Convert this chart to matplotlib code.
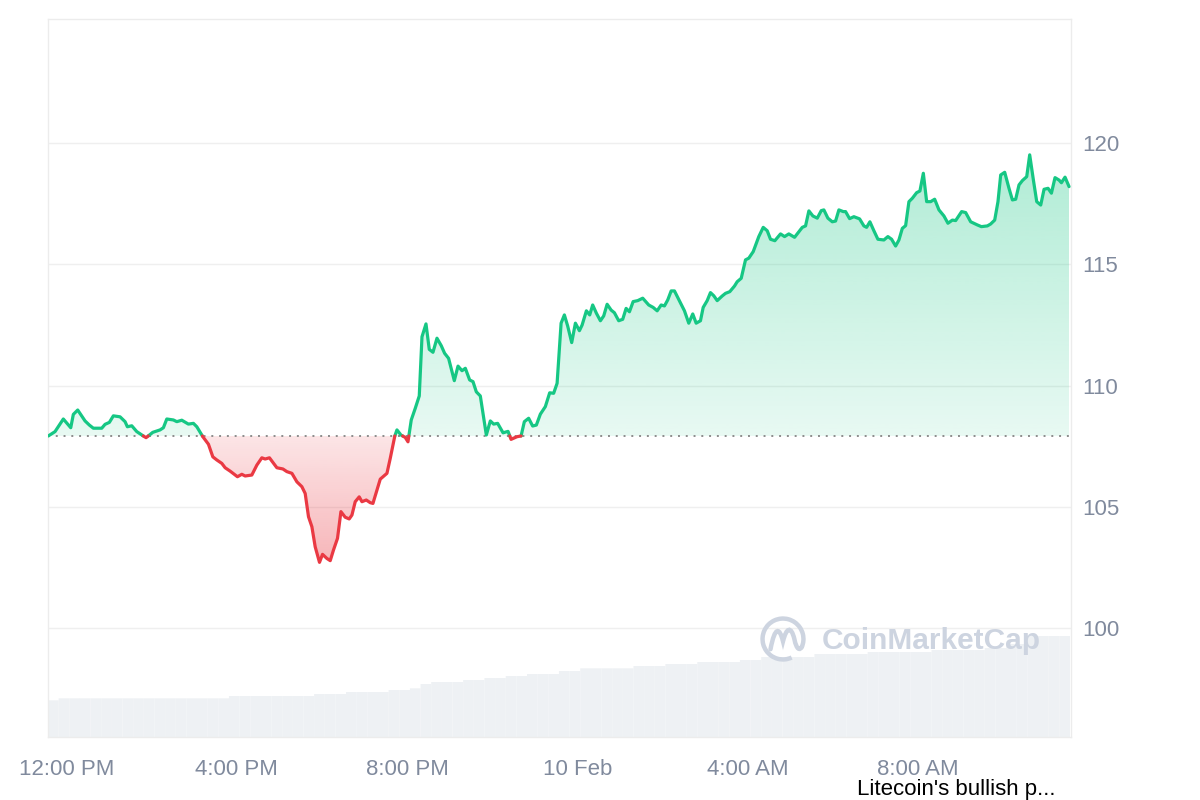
import numpy as np
import matplotlib
matplotlib.use('Agg')
import matplotlib.pyplot as plt
from matplotlib.patches import Arc, PathPatch
from matplotlib.path import Path
from matplotlib.colors import to_rgb

plt.rcParams['font.family'] = ['Liberation Sans', 'DejaVu Sans']

# ---------------- data ----------------
# hours relative to 12:00 PM, 9 Feb
hours = [-0.428, -0.270, -0.075, 0.099, 0.160, 0.263, 0.435, 0.536, 0.630, 0.827, 0.905, 1.006, 1.100, 1.257,
         1.375, 1.429, 1.532, 1.650, 1.767, 1.868, 2.026, 2.197, 2.275, 2.355, 2.510, 2.590, 2.707, 2.862,
         2.980, 3.060, 3.201, 3.333, 3.436, 3.530, 3.647, 3.725, 3.843, 4.014, 4.117, 4.195, 4.352, 4.470,
         4.587, 4.665, 4.766, 4.940, 5.081, 5.175, 5.293, 5.410, 5.527, 5.605, 5.683, 5.762, 5.840, 5.941,
         6.012, 6.115, 6.193, 6.270, 6.364, 6.444, 6.545, 6.639, 6.703, 6.780, 6.874, 6.938, 7.039, 7.133,
         7.196, 7.290, 7.368, 7.525, 7.603, 7.704, 7.760, 7.854, 7.955, 8.019, 8.096, 8.190, 8.284, 8.348,
         8.442, 8.519, 8.606, 8.700, 8.801, 8.879, 8.973, 9.107, 9.194, 9.288, 9.366, 9.467, 9.546, 9.624,
         9.718, 9.859, 9.953, 10.031, 10.125, 10.252, 10.369, 10.440, 10.581, 10.675, 10.752, 10.853, 10.947,
         11.034, 11.128, 11.245, 11.347, 11.440, 11.521, 11.615, 11.692, 11.770, 11.864, 11.951, 12.045,
         12.108, 12.209, 12.287, 12.357, 12.444, 12.538, 12.616, 12.696, 12.790, 12.867, 12.968, 13.062,
         13.142, 13.220, 13.307, 13.415, 13.532, 13.673, 13.777, 13.871, 13.965, 14.042, 14.120, 14.200,
         14.277, 14.378, 14.512, 14.613, 14.707, 14.787, 14.888, 14.952, 15.046, 15.123, 15.201, 15.281,
         15.398, 15.476, 15.577, 15.687, 15.751, 15.845, 15.946, 16.023, 16.127, 16.258, 16.362, 16.456,
         16.533, 16.635, 16.768, 16.863, 16.963, 17.098, 17.279, 17.356, 17.434, 17.528, 17.631, 17.725,
         17.786, 17.880, 17.984, 18.061, 18.139, 18.242, 18.296, 18.390, 18.491, 18.625, 18.726, 18.790,
         18.867, 18.961, 19.055, 19.196, 19.290, 19.377, 19.471, 19.549, 19.629, 19.706, 19.784, 19.864,
         19.965, 20.042, 20.122, 20.200, 20.294, 20.388, 20.489, 20.606, 20.700, 20.804, 20.881, 21.022,
         21.116, 21.234, 21.391, 21.485, 21.626, 21.704, 21.798, 21.875, 21.939, 22.033, 22.134, 22.214,
         22.291, 22.369, 22.449, 22.550, 22.620, 22.707, 22.785, 22.879, 22.957, 23.051, 23.130, 23.215,
         23.309, 23.365, 23.450, 23.544]

prices = [107.92, 108.10, 108.62, 108.26, 108.81, 108.99, 108.54, 108.37, 108.24, 108.24, 108.40, 108.48,
          108.75, 108.71, 108.51, 108.30, 108.34, 108.10, 107.96, 107.85, 108.07, 108.17, 108.26, 108.62,
          108.58, 108.51, 108.57, 108.41, 108.44, 108.30, 107.89, 107.58, 107.06, 106.93, 106.79, 106.61,
          106.47, 106.24, 106.34, 106.27, 106.31, 106.72, 107.02, 106.97, 107.02, 106.61, 106.56, 106.45,
          106.38, 106.03, 105.83, 105.55, 104.59, 104.18, 103.35, 102.71, 103.04, 102.87, 102.78, 103.22,
          103.70, 104.80, 104.57, 104.50, 104.66, 105.21, 105.41, 105.21, 105.28, 105.17, 105.14, 105.69,
          106.14, 106.38, 107.00, 107.89, 108.17, 107.96, 107.86, 107.68, 108.58, 109.06, 109.57, 112.01,
          112.54, 111.49, 111.37, 111.95, 111.64, 111.33, 111.12, 110.20, 110.80, 110.61, 110.71, 110.23,
          110.16, 109.74, 109.57, 107.96, 108.54, 108.41, 108.44, 108.05, 108.11, 107.78, 107.89, 107.92,
          108.51, 108.65, 108.33, 108.37, 108.82, 109.13, 109.70, 109.68, 110.09, 112.57, 112.91, 112.45,
          111.77, 112.57, 112.26, 112.49, 113.08, 112.91, 113.32, 112.98, 112.67, 112.87, 113.35, 113.11,
          113.00, 112.67, 112.73, 113.18, 113.04, 113.46, 113.50, 113.60, 113.32, 113.22, 113.08, 113.32,
          113.28, 113.53, 113.90, 113.90, 113.55, 113.08, 112.57, 112.95, 112.57, 112.67, 113.22, 113.50,
          113.83, 113.70, 113.50, 113.69, 113.80, 113.87, 114.10, 114.28, 114.42, 115.18, 115.25, 115.52,
          116.14, 116.52, 116.38, 116.03, 115.97, 116.25, 116.14, 116.25, 116.11, 116.52, 116.58, 117.20,
          116.99, 116.90, 117.21, 117.24, 116.90, 116.75, 116.78, 117.24, 117.17, 117.17, 116.88, 116.96,
          116.87, 116.58, 116.52, 116.75, 116.38, 116.03, 116.00, 116.14, 116.03, 115.75, 116.00, 116.48,
          116.59, 117.58, 117.72, 117.95, 118.02, 118.75, 117.58, 117.58, 117.68, 117.24, 116.99, 116.69,
          116.82, 116.80, 117.17, 117.13, 116.75, 116.62, 116.55, 116.58, 116.66, 116.82, 117.58, 118.68,
          118.79, 118.13, 117.65, 117.68, 118.27, 118.45, 118.61, 119.51, 118.47, 117.58, 117.44, 118.09,
          118.13, 117.93, 118.57, 118.47, 118.36, 118.59, 118.20]

# volume bars (15-minute buckets, arbitrary units)
volume = [367, 387, 387, 387, 387, 387, 387, 387, 387, 387, 387, 387, 387, 387, 387, 387, 387,
          410, 410, 410, 410, 410, 410, 410, 410, 430, 430, 430, 450, 450, 450, 450, 470, 470, 487,
          530, 550, 550, 550, 570, 570, 590, 590, 610, 610, 630, 630, 630, 660, 660,
          687, 687, 687, 687, 687, 710, 710, 710, 730, 730, 730, 750, 750, 750, 750, 770, 770,
          800, 800, 800, 800, 800, 830, 830, 830, 830, 830, 850, 850, 850, 850, 850, 850,
          870, 870, 870, 870, 870, 890, 890, 930, 930, 1010, 1010, 1010, 1010]
vol_start = -0.435
vol_step = 0.25

x_ticks = [0, 4, 8, 12, 16, 20]
x_labels = ['12:00 PM', '4:00 PM', '8:00 PM', '10 Feb', '4:00 AM', '8:00 AM']
y_ticks = [100, 105, 110, 115, 120]

GREEN = '#16c784'
RED = '#ea3943'
LABEL = '#808a9d'

# ---------------- figure ----------------
fig = plt.figure(figsize=(12, 8), dpi=100)
rect = [0.04, 0.07875, 0.8525, 0.8975]
axv = fig.add_axes(rect)
ax = fig.add_axes(rect, sharex=axv)
ax.patch.set_alpha(0)

# volume
vol_x = vol_start + vol_step * (np.arange(len(volume)) + 0.5)
axv.bar(vol_x, volume, width=vol_step * 1.001, color='#eef1f4', linewidth=0, snap=False)
axv.set_ylim(0, 7180)
axv.set_yticks([])
axv.tick_params(axis='x', length=0, labelbottom=False)
for s in axv.spines.values():
    s.set_visible(False)

# price
t = np.array(hours)
p = np.array(prices)
base = p[0]

tt = [t[0]]
pp = [p[0]]
for i in range(len(t) - 1):
    d0 = p[i] - base
    d1 = p[i + 1] - base
    if d0 * d1 < 0:
        tc = t[i] + (t[i + 1] - t[i]) * d0 / (d0 - d1)
        tt.append(tc)
        pp.append(base)
    tt.append(t[i + 1])
    pp.append(p[i + 1])
tt = np.array(tt)
pp = np.array(pp)


def grad_fill(yvals, far, color, a_base, a_far):
    verts = np.concatenate([np.column_stack([tt, yvals]),
                            [[tt[-1], base], [tt[0], base], [tt[0], yvals[0]]]])
    path = Path(verts, closed=True)
    n = 256
    ymin, ymax = min(base, far), max(base, far)
    ys = np.linspace(ymin, ymax, n)
    alphas = a_base + (a_far - a_base) * np.abs(ys - base) / abs(far - base)
    img = np.zeros((n, 1, 4))
    img[..., :3] = to_rgb(color)
    img[:, 0, 3] = alphas
    im = ax.imshow(img, extent=[tt[0], tt[-1], ymin, ymax], origin='lower',
                   aspect='auto', interpolation='bilinear', zorder=2)
    im.set_clip_path(path, ax.transData)


grad_fill(np.maximum(pp, base), pp.max(), GREEN, 0.10, 0.34)
grad_fill(np.minimum(pp, base), pp.min(), RED, 0.13, 0.37)

ax.axhline(base, color='#8c8c8c', lw=1.4, ls=(0, (1, 3)), zorder=3)

g = np.where(pp >= base, pp, np.nan)
r = np.where(pp <= base, pp, np.nan)
ax.plot(tt, g, color=GREEN, lw=2.3, solid_joinstyle='round', solid_capstyle='round', zorder=4)
ax.plot(tt, r, color=RED, lw=2.3, solid_joinstyle='round', solid_capstyle='round', zorder=4)

ax.set_xlim(-0.435, 23.59)
ax.set_ylim(95.51, 125.11)
ax.set_yticks(y_ticks)
ax.set_xticks(x_ticks)
ax.set_xticklabels(x_labels)
ax.yaxis.tick_right()
ax.tick_params(axis='y', length=0, pad=8, labelsize=16, labelcolor=LABEL)
ax.tick_params(axis='x', length=0, pad=16, labelsize=16, labelcolor=LABEL)
ax.grid(axis='y', color='#efefef', lw=1)
ax.set_axisbelow(True)
for s in ax.spines.values():
    s.set_color('#ececec')
    s.set_linewidth(1)

# watermark
WM = '#cdd4e0'
fig.text(822 / 1200, 1 - 641 / 800, 'CoinMarketCap', fontsize=21.5, fontweight='bold',
         color=WM, ha='left', va='center', zorder=10)
lax = fig.add_axes([758 / 1200, 1 - 664 / 800, 50 / 1200, 50 / 800])
lax.set_xlim(-1.1, 1.1)
lax.set_ylim(-1.1, 1.1)
lax.axis('off')
lax.add_patch(Arc((0, 0), 1.8, 1.8, theta1=335, theta2=295, color=WM, lw=3.2))
wave = Path([(-0.55, -0.45), (-0.35, 0.6), (-0.15, 0.5), (0.0, -0.1),
             (0.15, 0.5), (0.35, 0.6), (0.5, 0.0), (0.6, -0.5), (0.75, -0.5), (0.82, -0.35)],
            [Path.MOVETO, Path.CURVE4, Path.CURVE4, Path.CURVE4,
             Path.CURVE4, Path.CURVE4, Path.CURVE4, Path.CURVE4, Path.CURVE4, Path.CURVE4])
lax.add_patch(PathPatch(wave, facecolor='none', edgecolor=WM, lw=3.2, capstyle='round'))

fig.text(857 / 1200, 1 - 790 / 800, "Litecoin's bullish p...", fontsize=16, color='black',
         ha='left', va='center')

fig.savefig('out.png', dpi=100)
